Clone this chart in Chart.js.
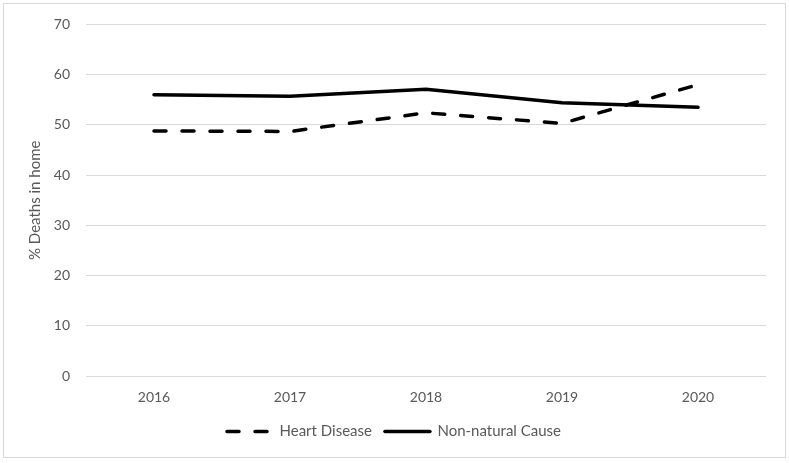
<!DOCTYPE html>
<html>
<head>
<meta charset="utf-8">
<script src="https://cdn.jsdelivr.net/npm/chart.js@4"></script>
<style>
  body { margin: 0; background: #fff; }
  #wrap { position: relative; width: 789px; height: 463px; }
  #frame { position: absolute; left: 3px; top: 3px; width: 781px; height: 453px; border: 1px solid #d9d9d9; pointer-events: none; }
</style>
</head>
<body>
<div id="wrap">
  <canvas id="deathsChart" width="789" height="463"></canvas>
  <div id="frame"></div>
</div>
<script>
const years = ['2016', '2017', '2018', '2019', '2020'];
const heartDisease = [48.8, 48.7, 52.4, 50.3, 58.0];
const nonNatural = [56.0, 55.7, 57.1, 54.4, 53.5];
const yTicks = [0, 10, 20, 30, 40, 50, 60, 70];

const fontFamily = 'Lato, "Open Sans", sans-serif';
const grey = '#595959';

const ctx = document.getElementById('deathsChart').getContext('2d');
new Chart(ctx, {
    type: 'line',
    data: {
        labels: years,
        datasets: [{
            label: 'Heart Disease',
            data: heartDisease,
            borderColor: '#000',
            backgroundColor: '#000',
            borderWidth: 3.5,
            borderDash: [12, 16],
            borderCapStyle: 'round',
            pointRadius: 0,
            tension: 0
        }, {
            label: 'Non-natural Cause',
            data: nonNatural,
            borderColor: '#000',
            backgroundColor: '#000',
            borderWidth: 3.5,
            borderCapStyle: 'round',
            pointRadius: 0,
            tension: 0
        }]
    },
    options: {
        responsive: false,
        animation: false,
        layout: { padding: { left: 22, right: 23, top: 16, bottom: 14 } },
        plugins: {
            tooltip: { enabled: false },
            legend: {
                position: 'bottom',
                labels: {
                    usePointStyle: true,
                    pointStyle: 'line',
                    pointStyleWidth: 45,
                    padding: 13,
                    color: grey,
                    font: { family: fontFamily, size: 15 },
                    // keep the dash of each dataset in the legend sample
                    generateLabels: chart => Chart.defaults.plugins.legend.labels.generateLabels(chart).map((item, i) => ({
                        ...item,
                        lineDash: chart.data.datasets[i].borderDash || [],
                        lineCap: 'round',
                        lineWidth: 3.5,
                        strokeStyle: '#000'
                    }))
                }
            }
        },
        scales: {
            x: {
                offset: true,
                grid: { display: false },
                border: { display: false },
                ticks: { color: grey, padding: 5, font: { family: fontFamily, size: 14 } }
            },
            y: {
                min: 0,
                max: 70,
                afterBuildTicks: scale => { scale.ticks = yTicks.map(v => ({ value: v })); },
                afterFit: scale => { scale.width = 64; },
                grid: { color: '#d9d9d9', drawTicks: false },
                border: { display: false },
                ticks: { color: grey, padding: 16, font: { family: fontFamily, size: 14 } },
                title: {
                    display: true,
                    text: '% Deaths in home',
                    color: grey,
                    font: { family: fontFamily, size: 15 }
                }
            }
        }
    }
});
</script>
</body>
</html>
